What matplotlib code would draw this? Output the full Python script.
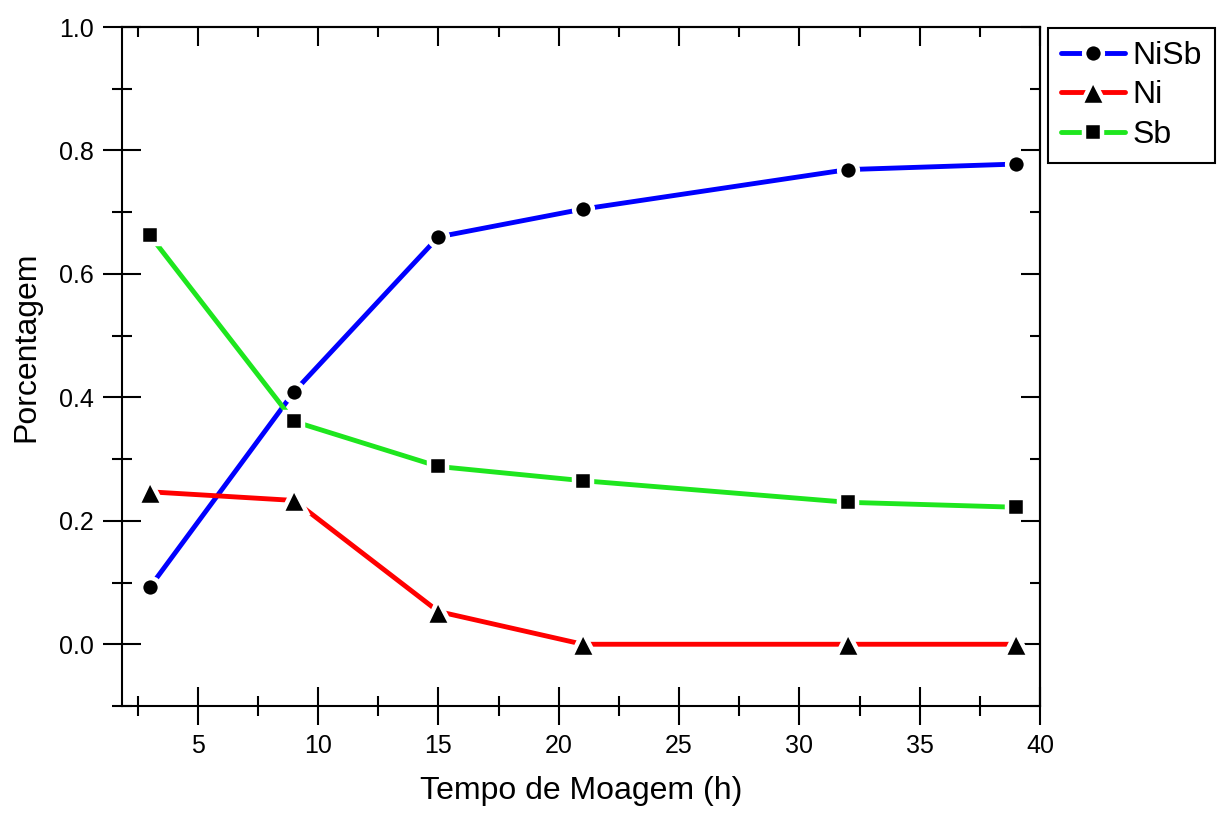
import matplotlib
matplotlib.use("Agg")
import matplotlib.pyplot as plt
from matplotlib.ticker import MultipleLocator

plt.rcParams["font.family"] = ["Liberation Sans", "DejaVu Sans"]

# milling time (h)
tempo = [3, 9, 15, 21, 32, 39]

# phase fractions
nisb = [0.092, 0.409, 0.660, 0.705, 0.769, 0.778]
ni = [0.247, 0.233, 0.053, 0.0, 0.0, 0.0]
sb = [0.663, 0.361, 0.288, 0.265, 0.230, 0.222]

series = [
    ("NiSb", nisb, "#0000FF", "o", 13.5),
    ("Ni", ni, "#FF0000", "^", 18),
    ("Sb", sb, "#1EE61E", "s", 12.5),
]

fig = plt.figure(figsize=(12.17, 8.14), dpi=100)
ax = fig.add_axes([0.1002, 0.1327, 0.7544, 0.8341])

for name, vals, color, mk, ms in series:
    ax.plot(tempo, vals, color=color, linewidth=3.5, solid_capstyle="round",
            marker=mk, markersize=ms,
            markerfacecolor="black", markeredgecolor="white",
            markeredgewidth=3.2, label=name)

ax.set_xlim(1.85, 40)
ax.set_ylim(-0.1, 1.0)

ax.xaxis.set_major_locator(MultipleLocator(5))
ax.xaxis.set_minor_locator(MultipleLocator(2.5))
ax.yaxis.set_major_locator(MultipleLocator(0.2))
ax.yaxis.set_minor_locator(MultipleLocator(0.1))
ax.yaxis.set_major_formatter(plt.FuncFormatter(lambda v, p: f"{v:.1f}"))

ax.tick_params(which="both", direction="inout", width=1.5, labelsize=18,
               top=False, right=False)
ax.tick_params(which="major", length=28, pad=6)
ax.tick_params(which="minor", length=14)

# inward ticks on top and right, no labels
secx = ax.secondary_xaxis("top")
secx.xaxis.set_major_locator(MultipleLocator(5))
secx.xaxis.set_minor_locator(MultipleLocator(2.5))
secx.tick_params(which="both", direction="in", width=1.5, labeltop=False)
secx.tick_params(which="major", length=14)
secx.tick_params(which="minor", length=7)
secy = ax.secondary_yaxis("right")
secy.yaxis.set_major_locator(MultipleLocator(0.2))
secy.yaxis.set_minor_locator(MultipleLocator(0.1))
secy.tick_params(which="both", direction="in", width=1.5, labelright=False)
secy.tick_params(which="major", length=14)
secy.tick_params(which="minor", length=7)

for s in list(ax.spines.values()) + [secx.spines["top"], secy.spines["right"]]:
    s.set_linewidth(1.5)

ax.set_xlabel("Tempo de Moagem (h)", fontsize=23, labelpad=13)
ax.set_ylabel("Porcentagem", fontsize=23)
ax.yaxis.set_label_coords(-0.088, 0.529)

leg = fig.legend(loc="upper left", bbox_to_anchor=(0.861, 0.9656),
                 borderaxespad=0, fontsize=23, numpoints=1, handlelength=2.0,
                 handletextpad=0.25, borderpad=0.4, labelspacing=0.3,
                 fancybox=False, edgecolor="black", framealpha=1)
leg.get_frame().set_linewidth(1.5)

fig.savefig("out.png", dpi=100)
